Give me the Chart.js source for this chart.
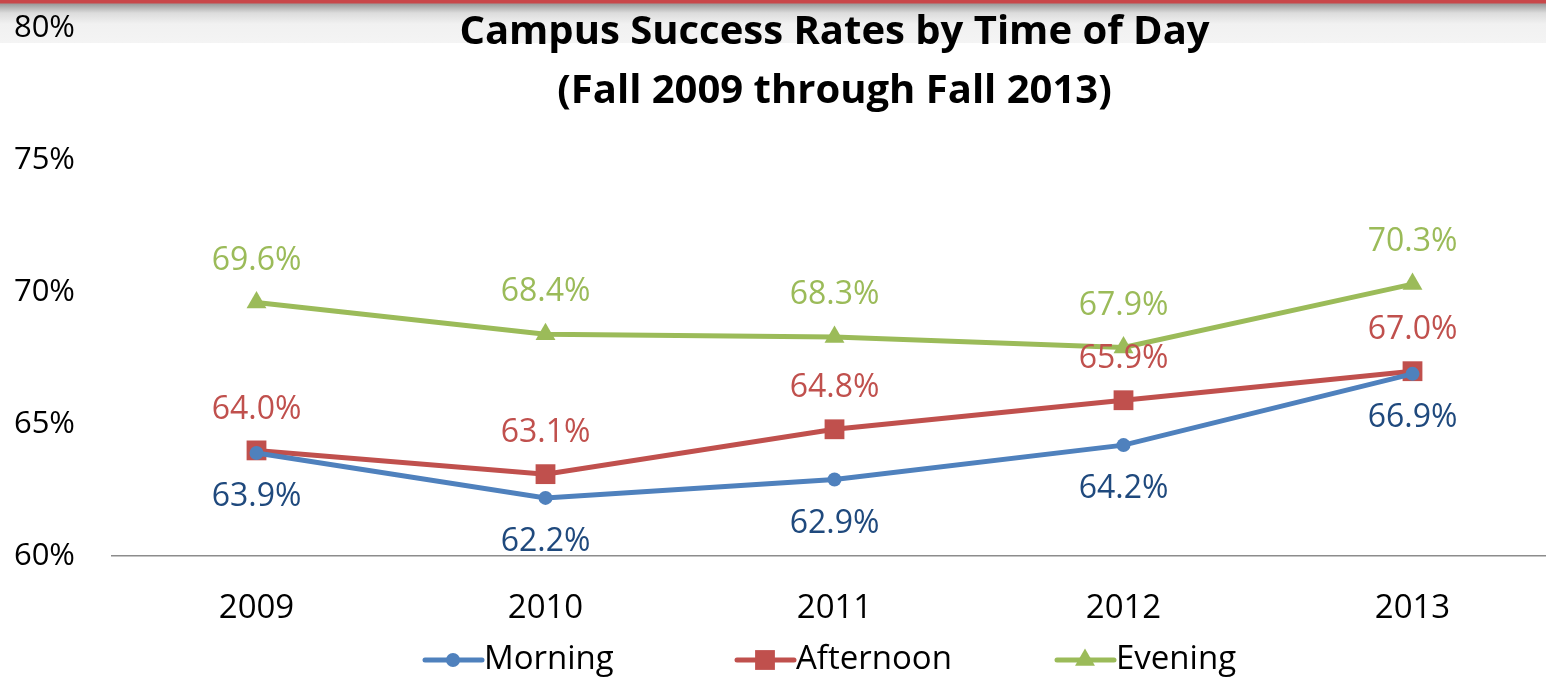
<!DOCTYPE html>
<html>
<head>
<meta charset="utf-8">
<script src="https://cdn.jsdelivr.net/npm/chart.js@4.4.1/dist/chart.umd.min.js"></script>
<style>
  html, body { margin: 0; padding: 0; overflow: hidden; background: #fff; }
  #wrap {
    position: relative; width: 1546px; height: 677px; overflow: hidden;
    background: linear-gradient(to bottom, #c8474a 0px, #c8474a 3px, #9c9c9c 4px, #dcdcdc 13px, #f1f1f1 24px, #f4f4f4 43px, #ffffff 43px);
  }
  canvas { position: absolute; left: 0; top: 0; }
</style>
</head>
<body>
<div id="wrap"><canvas id="chart" width="1571" height="677"></canvas></div>
<script>
// chart data
var years = ["2009", "2010", "2011", "2012", "2013"];
var morning = [63.9, 62.2, 62.9, 64.2, 66.9];
var afternoon = [64.0, 63.1, 64.8, 65.9, 67.0];
var evening = [69.6, 68.4, 68.3, 67.9, 70.3];
var titleLines = ["Campus Success Rates by Time of Day", "(Fall 2009 through Fall 2013)"];

var FONT = "'Open Sans', sans-serif";
var PLOT_RIGHT = 1557; // plot runs a little past the slide edge

// labels above/below each point
var pointLabels = {
  id: "pointLabels",
  afterDatasetsDraw(chart) {
    var ctx = chart.ctx;
    ctx.save();
    ctx.font = "32px " + FONT;
    ctx.textAlign = "center";
    ctx.textBaseline = "middle";
    chart.data.datasets.forEach(function (ds, i) {
      var meta = chart.getDatasetMeta(i);
      meta.data.forEach(function (pt, j) {
        ctx.fillStyle = ds.labelColor;
        ctx.fillText(ds.data[j].toFixed(1) + "%", pt.x, pt.y + ds.labelOffset);
      });
    });
    ctx.restore();
  },
};

// title overlapping the plot, centred on the x axis
var slideTitle = {
  id: "slideTitle",
  afterDraw(chart) {
    var ctx = chart.ctx;
    var x = chart.scales.x;
    var cx = (x.left + x.right) / 2;
    ctx.save();
    ctx.font = "bold 40px " + FONT;
    ctx.fillStyle = "#000";
    ctx.textAlign = "center";
    ctx.textBaseline = "middle";
    ctx.fillText(titleLines[0], cx, 33);
    ctx.fillText(titleLines[1], cx, 92);
    ctx.restore();
  },
};

// excel-like legend: line with marker, then text
var bottomLegend = {
  id: "bottomLegend",
  afterDraw(chart) {
    var ctx = chart.ctx;
    var starts = [425, 737, 1057];
    var y = 660;
    ctx.save();
    chart.data.datasets.forEach(function (ds, i) {
      var x = starts[i];
      ctx.strokeStyle = ds.borderColor;
      ctx.lineWidth = 5;
      ctx.lineCap = "round";
      ctx.beginPath();
      ctx.moveTo(x, y);
      ctx.lineTo(x + 57, y);
      ctx.stroke();
      ctx.fillStyle = ds.borderColor;
      Chart.helpers.drawPoint(ctx, {
        pointStyle: ds.pointStyle,
        radius: ds.pointRadius,
        borderWidth: 0,
        rotation: 0,
      }, x + 28, y);
      ctx.fillStyle = "#000";
      ctx.font = "33px " + FONT;
      ctx.textAlign = "left";
      ctx.textBaseline = "middle";
      ctx.fillText(ds.label, x + 59, y);
    });
    ctx.restore();
  },
};

var chart = new Chart(document.getElementById("chart"), {
  type: "line",
  data: {
    labels: years,
    datasets: [
      {
        label: "Morning",
        data: morning,
        borderColor: "#4f81bd",
        backgroundColor: "#4f81bd",
        borderWidth: 5,
        pointStyle: "circle",
        pointRadius: 7,
        pointBorderWidth: 0,
        labelColor: "#1f497d",
        labelOffset: 44,
      },
      {
        label: "Afternoon",
        data: afternoon,
        borderColor: "#c0504d",
        backgroundColor: "#c0504d",
        borderWidth: 5,
        pointStyle: "rect",
        pointRadius: 14,
        pointBorderWidth: 0,
        labelColor: "#c0504d",
        labelOffset: -41,
      },
      {
        label: "Evening",
        data: evening,
        borderColor: "#9bbb59",
        backgroundColor: "#9bbb59",
        borderWidth: 5,
        pointStyle: "triangle",
        pointRadius: 11.5,
        pointBorderWidth: 0,
        labelColor: "#9bbb59",
        labelOffset: -42,
      },
    ],
  },
  options: {
    responsive: false,
    animation: false,
    devicePixelRatio: 1,
    layout: { padding: { top: 28, right: 3, left: 0, bottom: 0 } },
    plugins: {
      legend: { display: false },
      title: { display: false },
      tooltip: { enabled: false },
    },
    scales: {
      x: {
        offset: true,
        grid: { display: false, drawTicks: false },
        border: { display: true, color: "#8c8c8c", width: 1.5 },
        ticks: { color: "#000", font: { family: FONT, size: 33 }, padding: 33 },
        afterFit(scale) { scale.height = 121; scale.paddingLeft = 0; scale.paddingRight = 0; },
      },
      y: {
        min: 60,
        max: 80,
        grid: { display: false, drawTicks: false },
        border: { display: false },
        ticks: {
          stepSize: 5,
          color: "#000",
          font: { family: FONT, size: 31 },
          padding: 37,
          callback: function (v) { return v + "%"; },
        },
        afterFit(scale) { scale.width = 112; scale.paddingTop = 0; scale.paddingBottom = 0; },
      },
    },
  },
  plugins: [pointLabels, slideTitle, bottomLegend],
});

// nudge the canvas width so the x axis ends where the slide's plot does
var diff = PLOT_RIGHT - chart.scales.x.right;
if (Math.abs(diff) > 0.5) chart.resize(Math.round(chart.width + diff), 677);
</script>
</body>
</html>
